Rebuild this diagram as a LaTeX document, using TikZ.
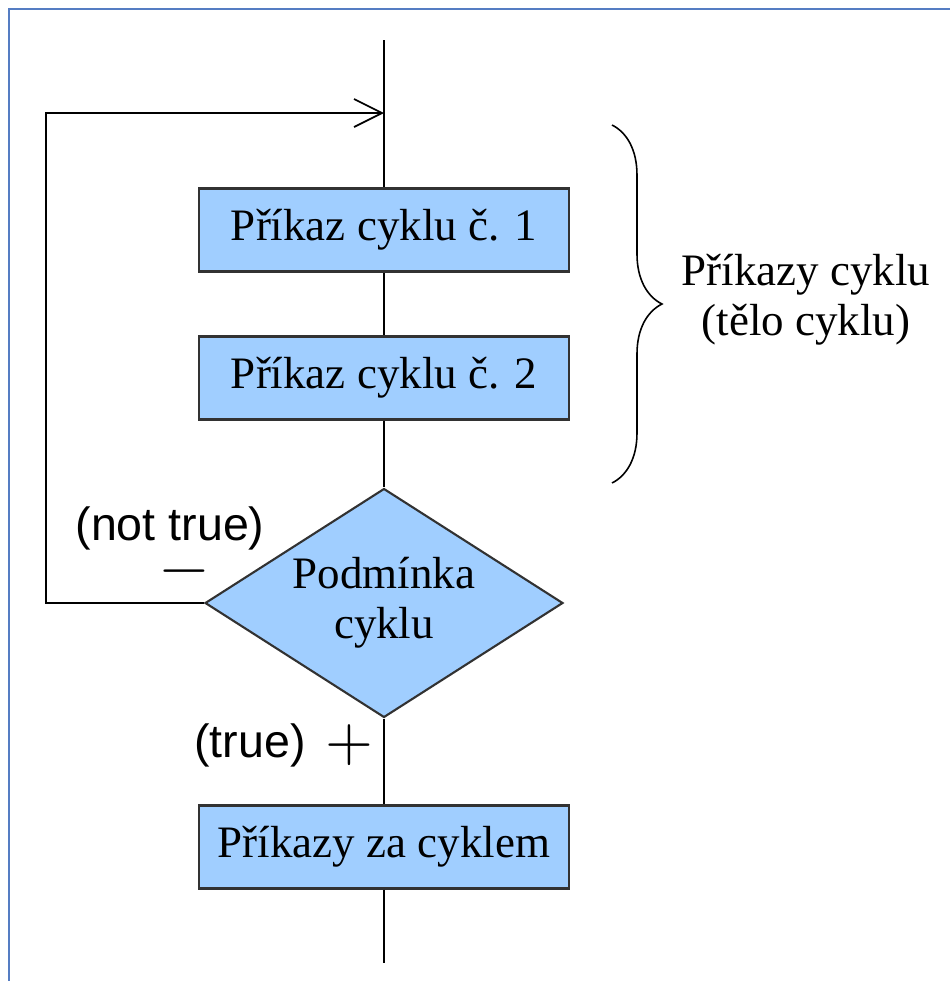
\documentclass[tikz,border=0pt]{standalone}
\usepackage{fontspec}
\setmainfont{Liberation Serif}
\setsansfont{Liberation Sans}
\newfontfamily\signfont{lmroman10-regular}[Extension=.otf]
\usetikzlibrary{shapes.geometric,decorations.pathreplacing,arrows.meta,positioning}

\definecolor{boxblue}{RGB}{160,206,255}
\definecolor{boxedge}{RGB}{50,50,50}
\definecolor{pageline}{RGB}{85,125,195}

\tikzset{
  stepbox/.style={draw=boxedge, line width=1.2pt, fill=boxblue, minimum width=7.4cm,
    minimum height=1.66cm, inner sep=0pt, font=\fontsize{25.6}{30}\selectfont},
  testbox/.style={diamond, aspect=1.563, draw=boxedge, line width=1.2pt, fill=boxblue,
    minimum width=7.16cm, minimum height=4.58cm, inner sep=0pt, align=center,
    font=\fontsize{25.6}{28.5}\selectfont},
  flow/.style={line width=1pt, black},
  sidelabel/.style={font=\sffamily\fontsize{26.5}{30}\selectfont},
  signlabel/.style={inner sep=0pt, font=\signfont\fontsize{35}{35}\selectfont}
}

\begin{document}
\begin{tikzpicture}[x=0.02cm, y=-0.02cm]
    \useasboundingbox (0,0) rectangle (950,981);

    % page frame
    \draw[pageline, line width=1pt] (9,981) -- (9,9) -- (950,9);

    % these are the blocks
    \node[stepbox] (cmd1) at (384,230) {Příkaz cyklu č. 1};
    \node[stepbox] (cmd2) at (384,378) {Příkaz cyklu č. 2};
    \node[testbox] (cond) at (384,603) {Podmínka\\cyklu};
    \node[stepbox] (after) at (384,847) {Příkazy za cyklem};

    \coordinate (top) at (384,40);
    \coordinate (join) at (384,113);
    \coordinate (bottom) at (384,963);
    \coordinate (backlow) at (46,603);
    \coordinate (backhigh) at (46,113);

    % main line
    \draw[flow] (top) -- (cmd1);
    \draw[flow] (cmd1) -- (cmd2);
    \draw[flow] (cmd2) -- (cond);
    \draw[flow] (cond) -- (after);
    \draw[flow] (after) -- (bottom);

    % back edge
    \draw[flow, -{Straight Barb[length=0.56cm, width=0.56cm, line width=1pt]}]
        (cond.west) -- (backlow) -- (backhigh) -- (join);

    % labels
    \node[sidelabel] (notlab) at (170,528) {(not true)};
    \node[signlabel] (minus) at (184,578) {−};
    \node[sidelabel] (truelab) at (250,745) {(true)};
    \node[signlabel] (plus) at (349,745) {+};

    % body brace
    \draw[line width=0.9pt, decorate, decoration={brace, amplitude=1cm}] (612,125) -- (612,483);
    \node[align=center, font=\fontsize{25.6}{28.5}\selectfont] (body) at (806,300)
        {Příkazy cyklu\\(tělo cyklu)};

\end{tikzpicture}
\end{document}
